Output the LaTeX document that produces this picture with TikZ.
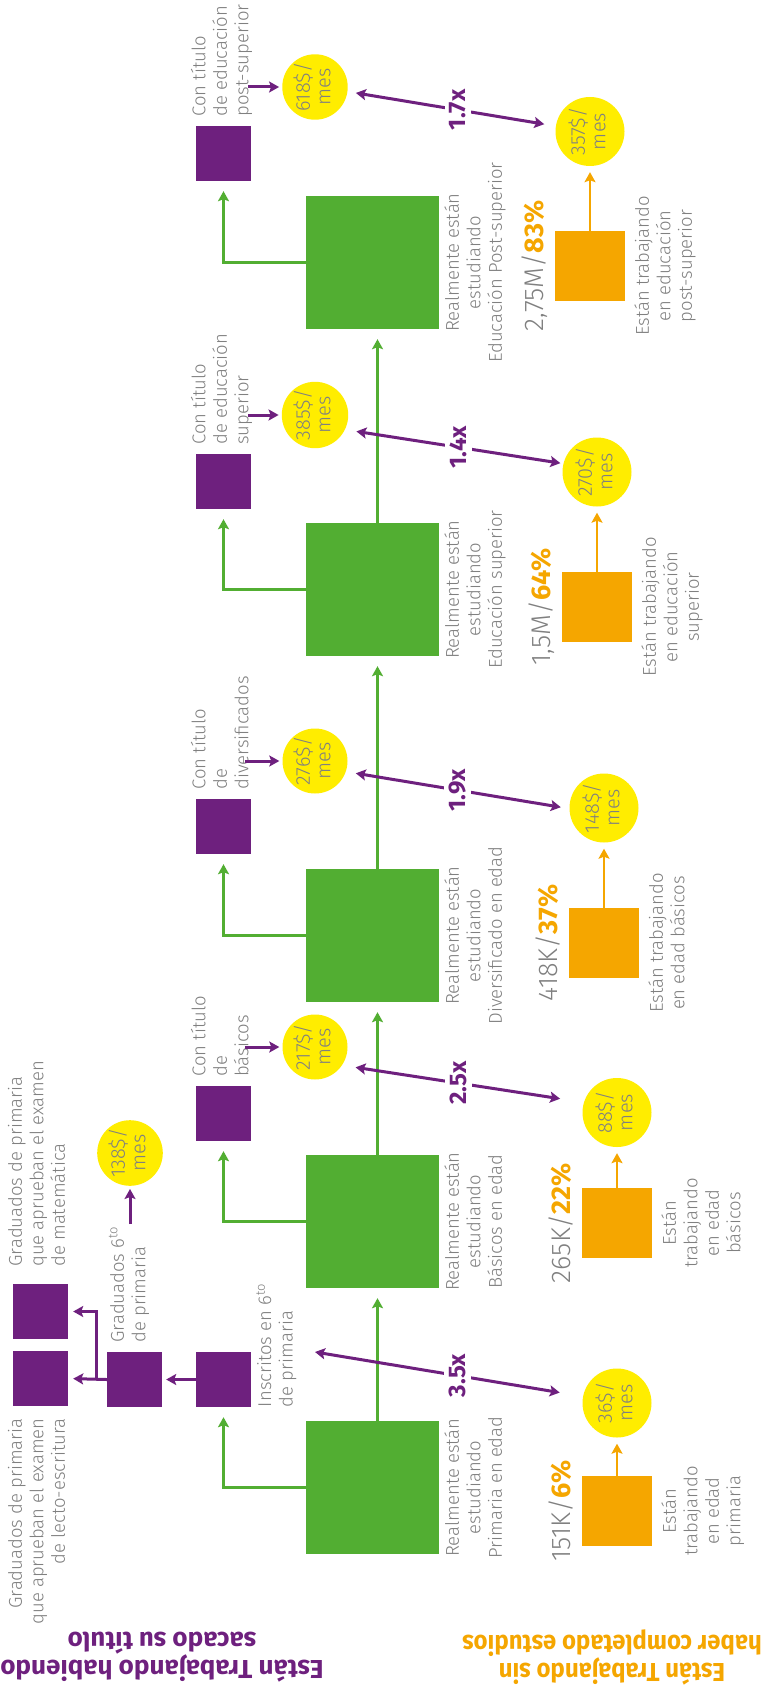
\documentclass[tikz,border=0pt]{standalone}
\usepackage{fontspec}
\setmainfont{Fira Sans}[UprightFont=* Light, BoldFont=* Bold]
\newfontfamily\headfont{Fira Sans}
\newfontfamily\headfontnarrow{Fira Sans}[FakeStretch=0.92]
\usetikzlibrary{arrows.meta}

\definecolor{edupurple}{RGB}{110,32,126}
\definecolor{edugreen}{RGB}{82,174,50}
\definecolor{eduorange}{RGB}{245,166,0}
\definecolor{eduyellow}{RGB}{255,237,0}
\definecolor{edugray}{RGB}{128,128,128}

% two short lines set upright inside a pay circle
\newcommand{\upright}[1]{\rotatebox{90}{\begin{tabular}{@{}c@{}}#1\end{tabular}}}

\tikzset{
  greenbox/.style={fill=edugreen, minimum size=133pt, inner sep=0pt},
  purplebox/.style={fill=edupurple, minimum size=55pt, inner sep=0pt},
  orangebox/.style={fill=eduorange, minimum size=70pt, inner sep=0pt},
  paycircle/.style={circle, fill=eduyellow, minimum size=65pt, inner sep=0pt,
    text=edugray, font=\fontsize{20}{20.5}\selectfont},
  bigpay/.style={paycircle, minimum size=69pt},
  graytext/.style={rotate=90, inner sep=0pt, text=edugray,
    font=\fontsize{18.5}{21.5}\selectfont},
  numlabel/.style={rotate=90, inner sep=0pt, text=edugray,
    font=\fontsize{27}{28}\selectfont},
  ratiolabel/.style={rotate=90, fill=white, inner sep=5pt, text=edupurple,
    font=\fontsize{24}{26}\selectfont\bfseries},
  headline/.style={rotate=180, align=center, inner sep=0pt,
    font=\headfont\bfseries\fontsize{26}{28}\selectfont},
  narrowheadline/.style={headline,
    font=\headfontnarrow\bfseries\fontsize{26}{28}\selectfont},
  tip/.tip={Stealth[length=10pt,width=11pt,inset=2pt]},
  garrow/.style={draw=edugreen, line width=2.8pt, -tip},
  parrow/.style={draw=edupurple, line width=3pt, -tip},
  pboth/.style={draw=edupurple, line width=3pt, tip-tip},
  oarrow/.style={draw=eduorange, line width=2.8pt, -tip},
}

\begin{document}
\begin{tikzpicture}[x=1pt,y=-1pt]
\fill[white] (0,0) rectangle (765,1688);
\useasboundingbox (0,0) rectangle (765,1688);

% ---- stages actually studying (green)
\node[greenbox] (g1) at (372.5,1487.5) {};
\node[greenbox] (g2) at (372.5,1221.5) {};
\node[greenbox] (g3) at (372.5,935.5) {};
\node[greenbox] (g4) at (372.5,589.5) {};
\node[greenbox] (g5) at (372.5,262.5) {};

\node[graytext, align=center, anchor=north] (gt1) at ([xshift=5pt]g1.east) {Realmente están\\estudiando\\Primaria en edad};
\node[graytext, align=center, anchor=north] (gt2) at ([xshift=5pt]g2.east) {Realmente están\\estudiando\\Básicos en edad};
\node[graytext, align=center, anchor=north] (gt3) at ([xshift=5pt]g3.east) {Realmente están\\estudiando\\Diversificado en edad};
\node[graytext, align=center, anchor=north] (gt4) at ([xshift=5pt]g4.east) {Realmente están\\estudiando\\Educación superior};
\node[graytext, align=center, anchor=north] (gt5) at ([xshift=5pt]g5.east) {Realmente están\\estudiando\\Educación Post-superior};

% ---- graduates (purple)
\node[purplebox] (p1) at (223.5,1379.5) {};
\node[purplebox] (p2) at (223.5,1113.5) {};
\node[purplebox] (p3) at (223.5,826.5) {};
\node[purplebox] (p4) at (223.5,481.5) {};
\node[purplebox] (p5) at (223.5,153.5) {};
\node[purplebox] (grad) at (134.5,1379.5) {};
\node[purplebox] (lecto) at (40.5,1378.5) {};
\node[purplebox] (mate) at (40.5,1311.5) {};

\node[graytext, align=left, anchor=north west] (instxt) at ([xshift=5pt]p1.south east) {Inscritos en 6\textsuperscript{to}\\de primaria};
\node[graytext, align=left, anchor=north west] (gradtxt) at ([xshift=2pt,yshift=9pt]grad.north west) {Graduados 6\textsuperscript{to}\\de primaria};
\node[graytext, align=right, anchor=north east] (lectotxt) at ([xshift=-5pt,yshift=-12pt]lecto.south west) {Graduados de primaria\\que aprueban el examen\\de lecto-escritura};
\node[graytext, align=left, anchor=north west] (matetxt) at ([xshift=-5pt,yshift=17pt]mate.north west) {Graduados de primaria\\que aprueban el examen\\de matemática};
\node[graytext, align=left, anchor=north west] (t2) at ([xshift=-5pt,yshift=9pt]p2.north west) {Con título\\de\\básicos};
\node[graytext, align=left, anchor=north west] (t3) at ([xshift=-5pt,yshift=9pt]p3.north west) {Con título\\de\\diversificados};
\node[graytext, align=left, anchor=north west] (t4) at ([xshift=-5pt,yshift=9pt]p4.north west) {Con título\\de educación\\superior};
\node[graytext, align=left, anchor=north west] (t5) at ([xshift=-5pt,yshift=9pt]p5.north west) {Con título\\de educación\\post-superior};

% ---- pay of graduates
\node[paycircle] (c138) at (130,1153) {\upright{138\$/\\mes}};
\node[paycircle] (c2) at (315,1047) {\upright{217\$/\\mes}};
\node[paycircle] (c3) at (315,761) {\upright{276\$/\\mes}};
\node[paycircle] (c4) at (315,415) {\upright{385\$/\\mes}};
\node[paycircle] (c5) at (315,87) {\upright{618\$/\\mes}};

% ---- working without finishing (orange)
\node[orangebox] (o1) at (617,1511) {};
\node[orangebox] (o2) at (617,1223) {};
\node[orangebox] (o3) at (604,943) {};
\node[orangebox] (o4) at (597,607) {};
\node[orangebox] (o5) at (590,266) {};

\node[bigpay] (r1) at (617,1403) {\upright{36\$/\\mes}};
\node[bigpay] (r2) at (617,1112.5) {\upright{88\$/\\mes}};
\node[bigpay] (r3) at (604,808) {\upright{148\$/\\mes}};
\node[bigpay] (r4) at (597,472) {\upright{270\$/\\mes}};
\node[bigpay] (r5) at (590,131.5) {\upright{357\$/\\mes}};

\node[numlabel, anchor=base] (n1) at ([xshift=-11pt]o1.west) {151K/\textcolor{eduorange}{\bfseries 6\%}};
\node[numlabel, anchor=base] (n2) at ([xshift=-11pt]o2.west) {265K/\textcolor{eduorange}{\bfseries 22\%}};
\node[numlabel, anchor=base] (n3) at ([xshift=-11pt]o3.west) {418K/\textcolor{eduorange}{\bfseries 37\%}};
\node[numlabel, anchor=base] (n4) at ([xshift=-11pt]o4.west) {1,5M/\textcolor{eduorange}{\bfseries 64\%}};
\node[numlabel, anchor=base] (n5) at ([xshift=-11pt]o5.west) {2,75M/\textcolor{eduorange}{\bfseries 83\%}};

\node[graytext, align=center, anchor=north] (ot1) at ([xshift=9pt]o1.east) {Están\\trabajando\\en edad\\primaria};
\node[graytext, align=center, anchor=north] (ot2) at ([xshift=9pt]o2.east) {Están\\trabajando\\en edad\\básicos};
\node[graytext, align=center, anchor=north] (ot3) at ([xshift=9pt]o3.east) {Están trabajando\\en edad básicos};
\node[graytext, align=center, anchor=north] (ot4) at ([xshift=9pt]o4.east) {Están trabajando\\en educación\\superior};
\node[graytext, align=center, anchor=north] (ot5) at ([xshift=9pt]o5.east) {Están trabajando\\en educación\\post-superior};

% ---- headings
\node[headline, text=edupurple] (headp) at (162,1657) {Están Trabajando habiendo\\sacado su título};
\node[narrowheadline, text=eduorange] (heado) at (612,1657) {Están Trabajando sin\\haber completado estudios};

% ---- green flow
\draw[garrow, shorten >=10pt] ([xshift=5pt]g1.north) -- ([xshift=5pt]g2.south);
\draw[garrow, shorten >=10pt] ([xshift=5pt]g2.north) -- ([xshift=5pt]g3.south);
\draw[garrow, shorten >=10pt] ([xshift=5pt]g3.north) -- ([xshift=5pt]g4.south);
\draw[garrow, shorten >=10pt] ([xshift=5pt]g4.north) -- ([xshift=5pt]g5.south);
\draw[garrow, shorten >=10pt] (g1.west) -| (p1.south);
\draw[garrow, shorten >=10pt] (g2.west) -| (p2.south);
\draw[garrow, shorten >=10pt] (g3.west) -| (p3.south);
\draw[garrow, shorten >=10pt] (g4.west) -| (p4.south);
\draw[garrow, shorten >=10pt] (g5.west) -| (p5.south);

% ---- purple flow in primary
\draw[parrow, shorten >=4pt] (p1.west) -- (grad.east);
\draw[parrow, shorten >=5pt] (grad.west) -- (lecto.east);
\coordinate (fork) at (96,1379.5);
\draw[parrow, shorten >=5pt] (fork) |- (mate.east);
\coordinate (gradend) at (130,1224);
\draw[parrow, shorten >=3pt] (gradend) -- (c138.south);

% ---- title to pay
\draw[parrow, shorten <=-4pt, shorten >=3pt] (t2.south |- c2) -- (c2.west);
\draw[parrow, shorten <=-4pt, shorten >=3pt] (t3.south |- c3) -- (c3.west);
\draw[parrow, shorten <=-4pt, shorten >=3pt] (t4.south |- c4) -- (c4.west);
\draw[parrow, shorten <=-4pt, shorten >=3pt] (t5.south |- c5) -- (c5.west);

% ---- orange to pay
\draw[oarrow, shorten >=6pt] (o1.north) -- (r1.south);
\draw[oarrow, shorten >=6pt] (o2.north) -- (r2.south);
\draw[oarrow, shorten >=6pt] (o3.north) -- (r3.south);
\draw[oarrow, shorten >=6pt] (o4.north) -- (r4.south);
\draw[oarrow, shorten >=6pt] (o5.north) -- (r5.south);

% ---- pay ratios
\coordinate (insend) at (315,1352);
\draw[pboth, shorten >=23.5pt] (insend) -- node[ratiolabel, pos=0.533] {3.5x} (r1.169);
\draw[pboth, shorten <=13.6pt, shorten >=24pt] (c2.-34) -- node[ratiolabel, pos=0.48] {2.5x} (r2.163);
\draw[pboth, shorten <=10pt, shorten >=8.6pt] (c3.-19) -- node[ratiolabel, pos=0.5] {1.9x} (r3.181);
\draw[pboth, shorten <=11.5pt, shorten >=3pt] (c4.-26) -- node[ratiolabel, pos=0.52] {1.4x} (r4.166);
\draw[pboth, shorten <=8.4pt, shorten >=11.6pt] (c5.-8) -- node[ratiolabel, pos=0.53] {1.7x} (r5.171);
\end{tikzpicture}
\end{document}
